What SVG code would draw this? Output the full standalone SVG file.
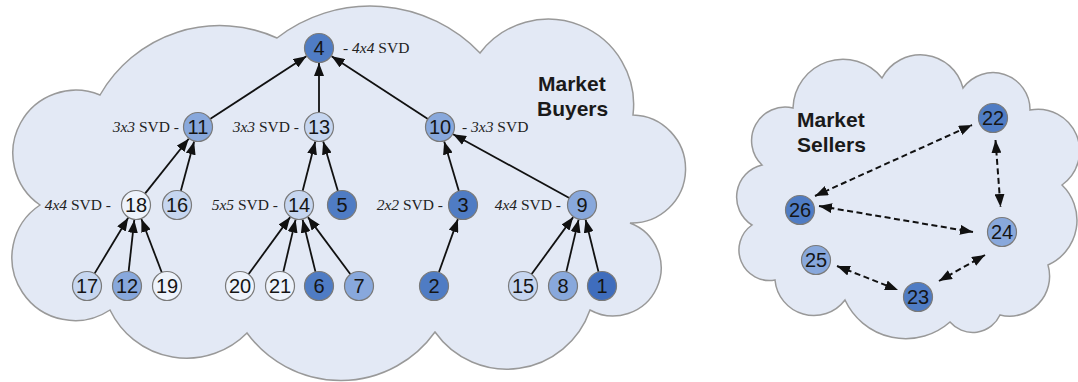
<svg xmlns="http://www.w3.org/2000/svg" width="1078" height="382" viewBox="0 0 1078 382">
<style>
.cloud{fill:#e3e9f5;stroke:#999;stroke-width:1.5}
.n circle{stroke:#7a7a7a;stroke-width:1.2}
.n text{font-family:"Liberation Sans",Arial,sans-serif;font-size:20px;fill:#151515;text-anchor:middle}
.dk{fill:#4f7cc4}.dk1{fill:#3f6dbd}.md{fill:#88a8dc}.lt{fill:#c6d6f0}.wt{fill:#eef3fb}
.lbl{font-family:"Liberation Serif","Times New Roman",serif;font-size:15.5px;fill:#222}
.lbl .i{font-style:italic}
.title{font-family:"Liberation Sans",Arial,sans-serif;font-size:21px;font-weight:bold;fill:#1a1a1a}
.e{stroke:#111;stroke-width:1.8;fill:none;marker-end:url(#ah)}
.d{stroke:#111;stroke-width:2;fill:none;stroke-dasharray:6 3.5;marker-start:url(#ah2);marker-end:url(#ah2)}
</style>
<defs>
<marker id="ah" markerUnits="userSpaceOnUse" markerWidth="13" markerHeight="10" refX="13" refY="5" orient="auto"><path d="M0,0 L13,5 L0,10 z" fill="#111"/></marker>
<marker id="ah2" markerUnits="userSpaceOnUse" markerWidth="13" markerHeight="10" refX="13" refY="5" orient="auto-start-reverse"><path d="M0,0 L13,5 L0,10 z" fill="#111"/></marker>
</defs>
<g id="cloud-buyers"><path class="cloud" d="M40,205 A63,63 0 0 1 100,95 A138,138 0 0 1 277,38 A152,152 0 0 1 480,53 A85.5,85.5 0 0 1 633,115 A54,54 0 1 1 630,223 A48,48 0 1 1 590,310 A88,88 0 0 1 435,332 A116,116 0 0 1 247,333 A85,85 0 0 1 110,310 A63,63 0 0 1 40,205 Z"/></g>
<g id="cloud-sellers"><path class="cloud" d="M793,108 A50,50 0 0 1 882,78 A43.7,43.7 0 0 1 963,88 A37,37 0 0 1 1030,110 A41.7,41.7 0 0 1 1062,185 A49,49 0 0 1 1048,265 A40,40 0 0 1 1000,315 A30,30 0 0 1 950,322 A67,67 0 0 1 845,300 A39,39 0 0 1 775,280 A30.5,30.5 0 0 1 752,225 A33,33 0 0 1 762,165 A33.6,33.6 0 0 1 793,108 Z"/></g>
<g id="titles">
<text class="title" x="538" y="91">Market</text>
<text class="title" x="537" y="116">Buyers</text>
<text class="title" x="797" y="127">Market</text>
<text class="title" x="797" y="152">Sellers</text>
</g>
<g id="labels">
<text class="lbl" x="343" y="53">- <tspan class="i">4x4</tspan> SVD</text>
<text class="lbl" x="179" y="132" text-anchor="end"><tspan class="i">3x3</tspan> SVD -</text>
<text class="lbl" x="299" y="132" text-anchor="end"><tspan class="i">3x3</tspan> SVD -</text>
<text class="lbl" x="462" y="132">- <tspan class="i">3x3</tspan> SVD</text>
<text class="lbl" x="111" y="210" text-anchor="end"><tspan class="i">4x4</tspan> SVD -</text>
<text class="lbl" x="278" y="210" text-anchor="end"><tspan class="i">5x5</tspan> SVD -</text>
<text class="lbl" x="443" y="210" text-anchor="end"><tspan class="i">2x2</tspan> SVD -</text>
<text class="lbl" x="561" y="210" text-anchor="end"><tspan class="i">4x4</tspan> SVD -</text>
</g>
<g id="connectors">
<line class="e" x1="210.1" y1="119.1" x2="306.4" y2="56.2"/>
<line class="e" x1="319" y1="112.5" x2="319" y2="63"/>
<line class="e" x1="427.9" y1="119.1" x2="331.6" y2="56.2"/>
<line class="e" x1="145" y1="193.6" x2="188.7" y2="138.7"/>
<line class="e" x1="180.8" y1="191" x2="194.1" y2="141.5"/>
<line class="e" x1="302.6" y1="191" x2="315.3" y2="141.5"/>
<line class="e" x1="337.9" y1="191.1" x2="323.2" y2="141.4"/>
<line class="e" x1="458.9" y1="191.1" x2="444.2" y2="141.4"/>
<line class="e" x1="569.3" y1="198" x2="453.1" y2="134.2"/>
<line class="e" x1="94.5" y1="273.6" x2="128.2" y2="217.8"/>
<line class="e" x1="128.6" y1="271.6" x2="134.3" y2="219.9"/>
<line class="e" x1="161.8" y1="272.5" x2="141.4" y2="219"/>
<line class="e" x1="248.5" y1="274.3" x2="290.2" y2="217.1"/>
<line class="e" x1="283.3" y1="271.9" x2="295.6" y2="219.6"/>
<line class="e" x1="315.5" y1="271.9" x2="302.6" y2="219.6"/>
<line class="e" x1="350.4" y1="274.3" x2="307.9" y2="217.1"/>
<line class="e" x1="438.9" y1="272.3" x2="457.9" y2="219.1"/>
<line class="e" x1="531.5" y1="274.3" x2="573.2" y2="217.1"/>
<line class="e" x1="566.3" y1="271.9" x2="578.6" y2="219.6"/>
<line class="e" x1="598.5" y1="271.9" x2="585.6" y2="219.6"/>
<line class="d" x1="815" y1="196" x2="972" y2="125"/>
<line class="d" x1="995.5" y1="140" x2="1000.5" y2="207"/>
<line class="d" x1="819" y1="206" x2="973" y2="232"/>
<line class="d" x1="837" y1="266" x2="898" y2="290"/>
<line class="d" x1="939" y1="281" x2="985" y2="255"/>
</g>
<g id="node-4" class="n"><circle class="dk" cx="319" cy="48" r="14.5"/><text x="319" y="55">4</text></g>
<g id="node-11" class="n"><circle class="md" cx="198" cy="127" r="14.5"/><text x="198" y="134">11</text></g>
<g id="node-13" class="n"><circle class="lt" cx="319" cy="127" r="14.5"/><text x="319" y="134">13</text></g>
<g id="node-10" class="n"><circle class="md" cx="440" cy="127" r="14.5"/><text x="440" y="134">10</text></g>
<g id="node-18" class="n"><circle class="wt" cx="136" cy="205" r="14.5"/><text x="136" y="212">18</text></g>
<g id="node-16" class="n"><circle class="lt" cx="177" cy="205" r="14.5"/><text x="177" y="212">16</text></g>
<g id="node-14" class="n"><circle class="lt" cx="299" cy="205" r="14.5"/><text x="299" y="212">14</text></g>
<g id="node-5" class="n"><circle class="dk" cx="342" cy="205" r="14.5"/><text x="342" y="212">5</text></g>
<g id="node-3" class="n"><circle class="dk" cx="463" cy="205" r="14.5"/><text x="463" y="212">3</text></g>
<g id="node-9" class="n"><circle class="md" cx="582" cy="205" r="14.5"/><text x="582" y="212">9</text></g>
<g id="node-17" class="n"><circle class="lt" cx="87" cy="286" r="14.5"/><text x="87" y="293">17</text></g>
<g id="node-12" class="n"><circle class="md" cx="127" cy="286" r="14.5"/><text x="127" y="293">12</text></g>
<g id="node-19" class="n"><circle class="wt" cx="167" cy="286" r="14.5"/><text x="167" y="293">19</text></g>
<g id="node-20" class="n"><circle class="wt" cx="240" cy="286" r="14.5"/><text x="240" y="293">20</text></g>
<g id="node-21" class="n"><circle class="wt" cx="280" cy="286" r="14.5"/><text x="280" y="293">21</text></g>
<g id="node-6" class="n"><circle class="dk" cx="319" cy="286" r="14.5"/><text x="319" y="293">6</text></g>
<g id="node-7" class="n"><circle class="md" cx="359" cy="286" r="14.5"/><text x="359" y="293">7</text></g>
<g id="node-2" class="n"><circle class="dk" cx="434" cy="286" r="14.5"/><text x="434" y="293">2</text></g>
<g id="node-15" class="n"><circle class="lt" cx="523" cy="286" r="14.5"/><text x="523" y="293">15</text></g>
<g id="node-8" class="n"><circle class="md" cx="563" cy="286" r="14.5"/><text x="563" y="293">8</text></g>
<g id="node-1" class="n"><circle class="dk1" cx="602" cy="286" r="14.5"/><text x="602" y="293">1</text></g>
<g id="node-22" class="n"><circle class="dk" cx="993" cy="118" r="14.5"/><text x="993" y="125">22</text></g>
<g id="node-26" class="n"><circle class="dk" cx="800" cy="210" r="14.5"/><text x="800" y="217">26</text></g>
<g id="node-24" class="n"><circle class="md" cx="1002" cy="232" r="14.5"/><text x="1002" y="239">24</text></g>
<g id="node-25" class="n"><circle class="md" cx="816" cy="260" r="14.5"/><text x="816" y="267">25</text></g>
<g id="node-23" class="n"><circle class="dk" cx="918" cy="297" r="14.5"/><text x="918" y="304">23</text></g>
</svg>
